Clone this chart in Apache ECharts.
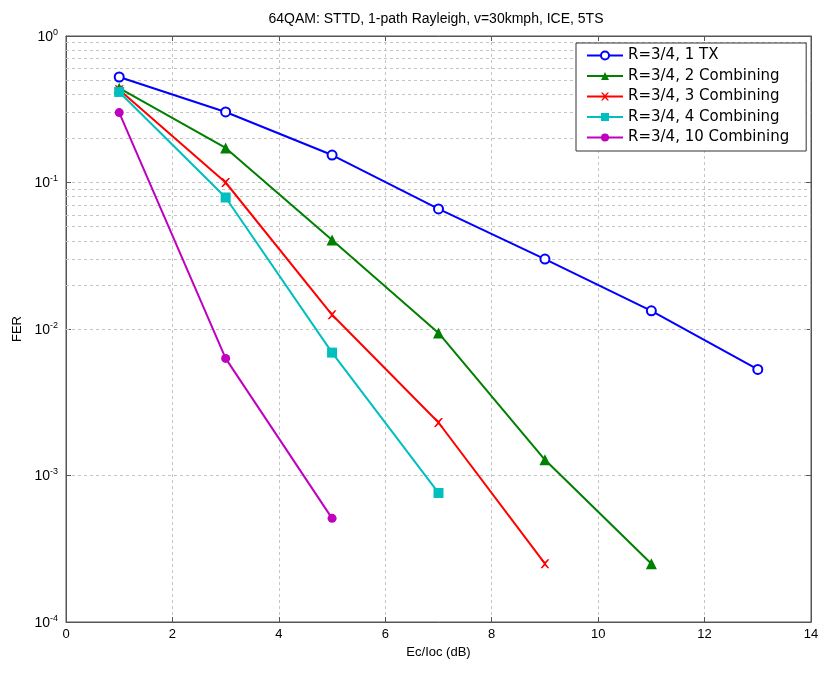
<!DOCTYPE html>
<html>
<head>
<meta charset="utf-8">
<script src="https://cdn.jsdelivr.net/npm/echarts@6/dist/echarts.min.js"></script>
<style>html,body{margin:0;padding:0;background:#fff;}#c{width:824px;height:673px;}</style>
</head>
<body>
<div id="c"></div>
<script>
const titleText = '64QAM: STTD, 1-path Rayleigh, v=30kmph, ICE, 5TS';
const xLabel = 'Ec/Ioc (dB)';
const yLabel = 'FER';
const seriesNames = ['R=3/4, 1 TX', 'R=3/4, 2 Combining', 'R=3/4, 3 Combining', 'R=3/4, 4 Combining', 'R=3/4, 10 Combining'];
const x1TX = [1, 3, 5, 7, 9, 11, 13];
const y1TX = [0.525, 0.303, 0.154, 0.066, 0.030, 0.0133, 0.0053];
const x2C = [1, 3, 5, 7, 9, 11];
const y2C = [0.44, 0.172, 0.0405, 0.0094, 0.00128, 0.00025];
const x3C = [1, 3, 5, 7, 9];
const y3C = [0.43, 0.10, 0.0125, 0.0023, 0.00025];
const x4C = [1, 3, 5, 7];
const y4C = [0.415, 0.079, 0.0069, 0.00076];
const x10C = [1, 3, 5];
const y10C = [0.30, 0.0063, 0.00051];
const xTicks = [0, 2, 4, 6, 8, 10, 12, 14];
const yMinorGrid = [];
[1e-4, 1e-3, 1e-2, 1e-1].forEach(function (d) { [2,3,4,5,6,7,8,9].forEach(function (k) { yMinorGrid.push(+(k * d).toPrecision(3)); }); });

const colors = ['#0000ff', '#008000', '#ff0000', '#00bfbf', '#bf00bf'];
const xPath = 'path://M0,0 L2,0 L5,3 L8,0 L10,0 L6,5 L10,10 L8,10 L5,7 L2,10 L0,10 L4,5 Z';

function zip(xs, ys) { return xs.map(function (x, i) { return [x, ys[i]]; }); }

const chart = echarts.init(document.getElementById('c'), null, { renderer: 'canvas' });
const font = 'Liberation Sans, Arial, sans-serif';
const gridLine = { show: true, lineStyle: { color: '#c4c4c4', type: [3, 3], width: 1 } };

const option = {
  animation: false,
  backgroundColor: '#ffffff',
  textStyle: { fontFamily: font },
  title: {
    text: titleText, left: 431, top: 7, textAlign: 'center',
    textStyle: { fontSize: 14, fontWeight: 'normal', color: '#000', fontFamily: font }
  },
  grid: { left: 66, right: 13, top: 36, bottom: 51, show: true, borderColor: '#555', borderWidth: 1, backgroundColor: '#fff' },
  legend: {
    orient: 'vertical', left: 576, top: 43, itemWidth: 36, itemHeight: 10, itemGap: 5.5,
    padding: [5, 17, 6, 10],
    backgroundColor: '#fff', borderColor: '#333', borderWidth: 1, borderRadius: 0,
    textStyle: { fontSize: 15, color: '#000', fontFamily: 'DejaVu Sans, sans-serif' },
    data: seriesNames
  },
  xAxis: [{
    type: 'value', min: 0, max: 14, interval: 2,
    name: xLabel, nameLocation: 'middle', nameGap: 23,
    nameTextStyle: { fontSize: 13, color: '#000', fontFamily: font },
    axisLine: { show: true, onZero: false, lineStyle: { color: '#555' } },
    axisTick: { show: true, inside: true, length: 5, lineStyle: { color: '#555' } },
    axisLabel: { fontSize: 13, color: '#000', margin: 6, fontFamily: font },
    splitLine: gridLine
  }, {
    type: 'value', min: 0, max: 14, interval: 2, position: 'top',
    axisLine: { show: true, onZero: false, lineStyle: { color: '#555' } },
    axisTick: { show: true, inside: true, length: 5, lineStyle: { color: '#555' } },
    axisLabel: { show: false }, splitLine: { show: false }
  }],
  yAxis: [{
    type: 'log', logBase: 10, min: 1e-4, max: 1,
    name: yLabel, nameLocation: 'middle', nameGap: 40,
    nameTextStyle: { fontSize: 13, color: '#000', fontFamily: font },
    axisLine: { show: true, onZero: false, lineStyle: { color: '#555' } },
    axisTick: { show: true, inside: true, length: 5, lineStyle: { color: '#555' } },
    axisLabel: {
      margin: 8,
      formatter: function (v) { return '{b|10}{s|' + Math.round(Math.log10(v)) + '}'; },
      rich: {
        b: { fontSize: 14, color: '#000', fontFamily: font, lineHeight: 16, verticalAlign: 'bottom' },
        s: { fontSize: 9, color: '#000', fontFamily: font, lineHeight: 16, verticalAlign: 'top' }
      }
    },
    splitLine: gridLine
  }, {
    type: 'log', logBase: 10, min: 1e-4, max: 1, position: 'right',
    axisLine: { show: true, onZero: false, lineStyle: { color: '#555' } },
    axisTick: { show: true, inside: true, length: 5, lineStyle: { color: '#555' } },
    axisLabel: { show: false }, splitLine: { show: false }
  }],
  series: [
    {
      name: seriesNames[0], type: 'line', data: zip(x1TX, y1TX), color: colors[0],
      lineStyle: { width: 2 }, symbol: 'emptyCircle', symbolSize: 9, itemStyle: { borderWidth: 2 }, z: 5,
      markLine: {
        silent: true, symbol: 'none', label: { show: false }, animation: false,
        lineStyle: { color: '#c4c4c4', type: [3, 3], width: 1 },
        data: yMinorGrid.map(function (v) { return { yAxis: v }; }),
        z: 1
      }
    },
    { name: seriesNames[1], type: 'line', data: zip(x2C, y2C), color: colors[1], lineStyle: { width: 2 }, symbol: 'triangle', symbolSize: 11, z: 5 },
    { name: seriesNames[2], type: 'line', data: zip(x3C, y3C), color: colors[2], lineStyle: { width: 2 }, symbol: xPath, symbolSize: 9, z: 5 },
    { name: seriesNames[3], type: 'line', data: zip(x4C, y4C), color: colors[3], lineStyle: { width: 2 }, symbol: 'rect', symbolSize: 10, z: 5 },
    { name: seriesNames[4], type: 'line', data: zip(x10C, y10C), color: colors[4], lineStyle: { width: 2 }, symbol: 'circle', symbolSize: 9, z: 5 }
  ]
};
chart.setOption(option);
</script>
</body>
</html>
